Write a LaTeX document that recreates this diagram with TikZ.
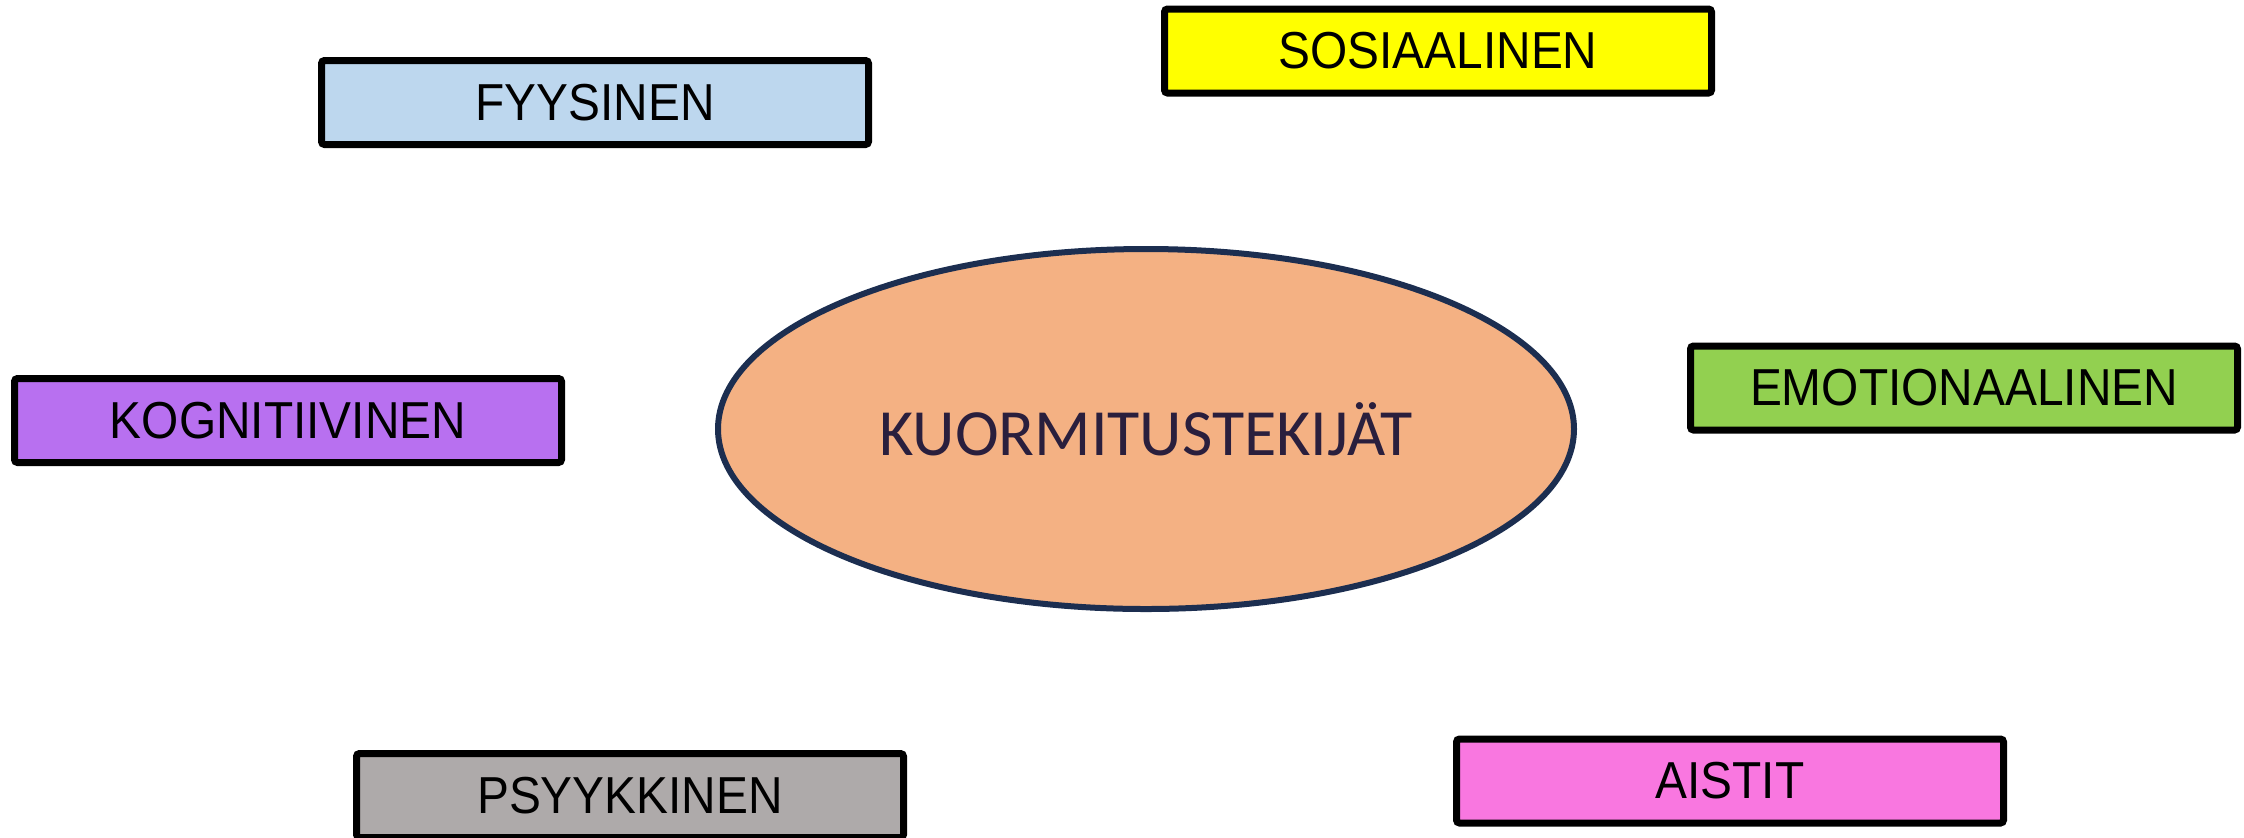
\documentclass[tikz,border=0pt]{standalone}
\usepackage{fontspec}
\setmainfont{Liberation Sans}
\newfontfamily\labelfont[FakeStretch=0.92]{Liberation Sans}
\newfontfamily\centerfont{Carlito}
\usetikzlibrary{shapes.geometric}
\definecolor{cblue}{HTML}{BDD7EE}
\definecolor{cyellow}{HTML}{FFFF00}
\definecolor{cpurple}{HTML}{B870F0}
\definecolor{cgreen}{HTML}{92D050}
\definecolor{cgrey}{HTML}{AEAAAA}
\definecolor{cpink}{HTML}{F977E0}
\definecolor{corange}{HTML}{F4B183}
\definecolor{cnavy}{HTML}{1C2E50}
\definecolor{ctext}{HTML}{2A1F3D}
\tikzset{
  catbox/.style={draw=black, line width=3.5pt, rounded corners=1.5pt,
    minimum width=273.5pt, minimum height=42pt, inner sep=0pt,
    font=\labelfont\fontsize{26}{30}\selectfont, text=black},
  hub/.style={ellipse, draw=cnavy, line width=3pt, fill=corange,
    minimum width=428pt, minimum height=180pt, inner sep=0pt,
    font=\centerfont\fontsize{33}{38}\selectfont, text=ctext}
}
\begin{document}
\begin{tikzpicture}[x=0.5pt, y=-0.5pt]
\useasboundingbox (0,0) rectangle (2244,837);
\node[hub] (hub) at (1146,429) {KUORMITUSTEKIJÄT};
\node[catbox, fill=cblue] (fyys) at (595,102.5) {FYYSINEN};
\node[catbox, fill=cyellow] (sos) at (1438,51) {SOSIAALINEN};
\node[catbox, fill=cpurple] (kog) at (288,420.5) {KOGNITIIVINEN};
\node[catbox, fill=cgreen] (emo) at (1964,388) {EMOTIONAALINEN};
\node[catbox, fill=cgrey] (psy) at (630,795.5) {PSYYKKINEN};
\node[catbox, fill=cpink] (ais) at (1730,781) {AISTIT};
\end{tikzpicture}
\end{document}
